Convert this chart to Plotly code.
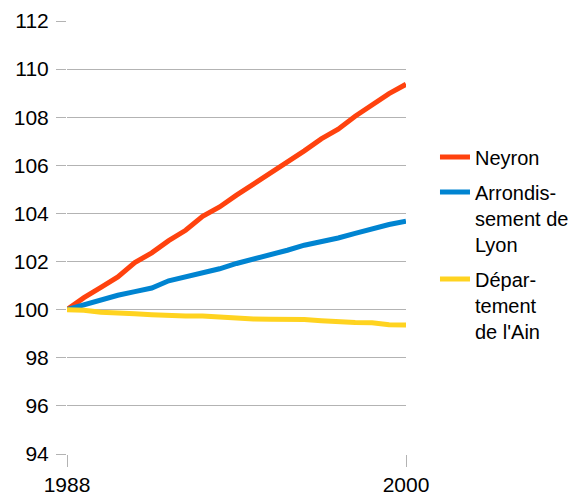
import plotly.graph_objects as go

years = [1988.0, 1988.6, 1989.2, 1989.8, 1990.4, 1991.0, 1991.6, 1992.2, 1992.8, 1993.4,
         1994.0, 1994.6, 1995.2, 1995.8, 1996.4, 1997.0, 1997.6, 1998.2, 1998.8, 1999.4, 2000.0]

neyron = [100.0, 100.5, 100.93, 101.36, 101.96, 102.36, 102.87, 103.3, 103.88, 104.27,
          104.76, 105.21, 105.66, 106.1, 106.6, 107.1, 107.5, 108.04, 108.5, 108.98, 109.37]
lyon = [100.0, 100.2, 100.45, 100.6, 100.75, 100.9, 101.2, 101.36, 101.5, 101.7,
        101.92, 102.1, 102.26, 102.47, 102.68, 102.82, 102.98, 103.17, 103.37, 103.54, 103.68]
ain = [100.0, 99.98, 99.89, 99.88, 99.83, 99.79, 99.75, 99.74, 99.74, 99.68,
       99.66, 99.61, 99.6, 99.6, 99.59, 99.54, 99.48, 99.47, 99.46, 99.37, 99.36]

names = ["Neyron", "Arrondis-<br>sement de<br>Lyon", "Dépar-<br>tement<br>de l'Ain"]
colors = ["#ff420e", "#0084d1", "#ffd320"]

x_ticks = [1988, 2000]
y_ticks = [94, 96, 98, 100, 102, 104, 106, 108, 110, 112]

fig = go.Figure()
for i, (name, vals, col) in enumerate(zip(names, [neyron, lyon, ain], colors)):
    fig.add_trace(go.Scatter(x=years, y=vals, mode="lines", name=name,
                             legendgroup="g%d" % i,
                             line=dict(color=col, width=5)))

grid = "#b3b3b3"
fig.update_layout(
    width=590, height=496,
    margin=dict(l=59, r=192, t=13, b=50, autoexpand=False),
    paper_bgcolor="white", plot_bgcolor="white",
    font=dict(family="Liberation Sans, Arial, sans-serif", size=21, color="#000000"),
    showlegend=True,
    legend=dict(x=1.0855, xanchor="left", y=0.731, yanchor="top", valign="top",
                font=dict(size=20), itemwidth=30, bgcolor="rgba(0,0,0,0)",
                tracegroupgap=6),
    xaxis=dict(range=[1988, 2000], tickvals=x_ticks, ticktext=[str(v) for v in x_ticks],
               showgrid=True, gridcolor=grid, gridwidth=1, automargin=False,
               ticks="outside", ticklen=12, tickcolor=grid, tickwidth=1,
               zeroline=False, showline=False),
    yaxis=dict(range=[94, 112], tickvals=y_ticks, ticktext=[str(v) for v in y_ticks],
               showgrid=True, gridcolor=grid, gridwidth=1, automargin=False,
               ticks="outside", ticklen=10, tickcolor=grid, tickwidth=1,
               ticklabelstandoff=3,
               zeroline=False, showline=False),
)

fig.write_html("out.html")
